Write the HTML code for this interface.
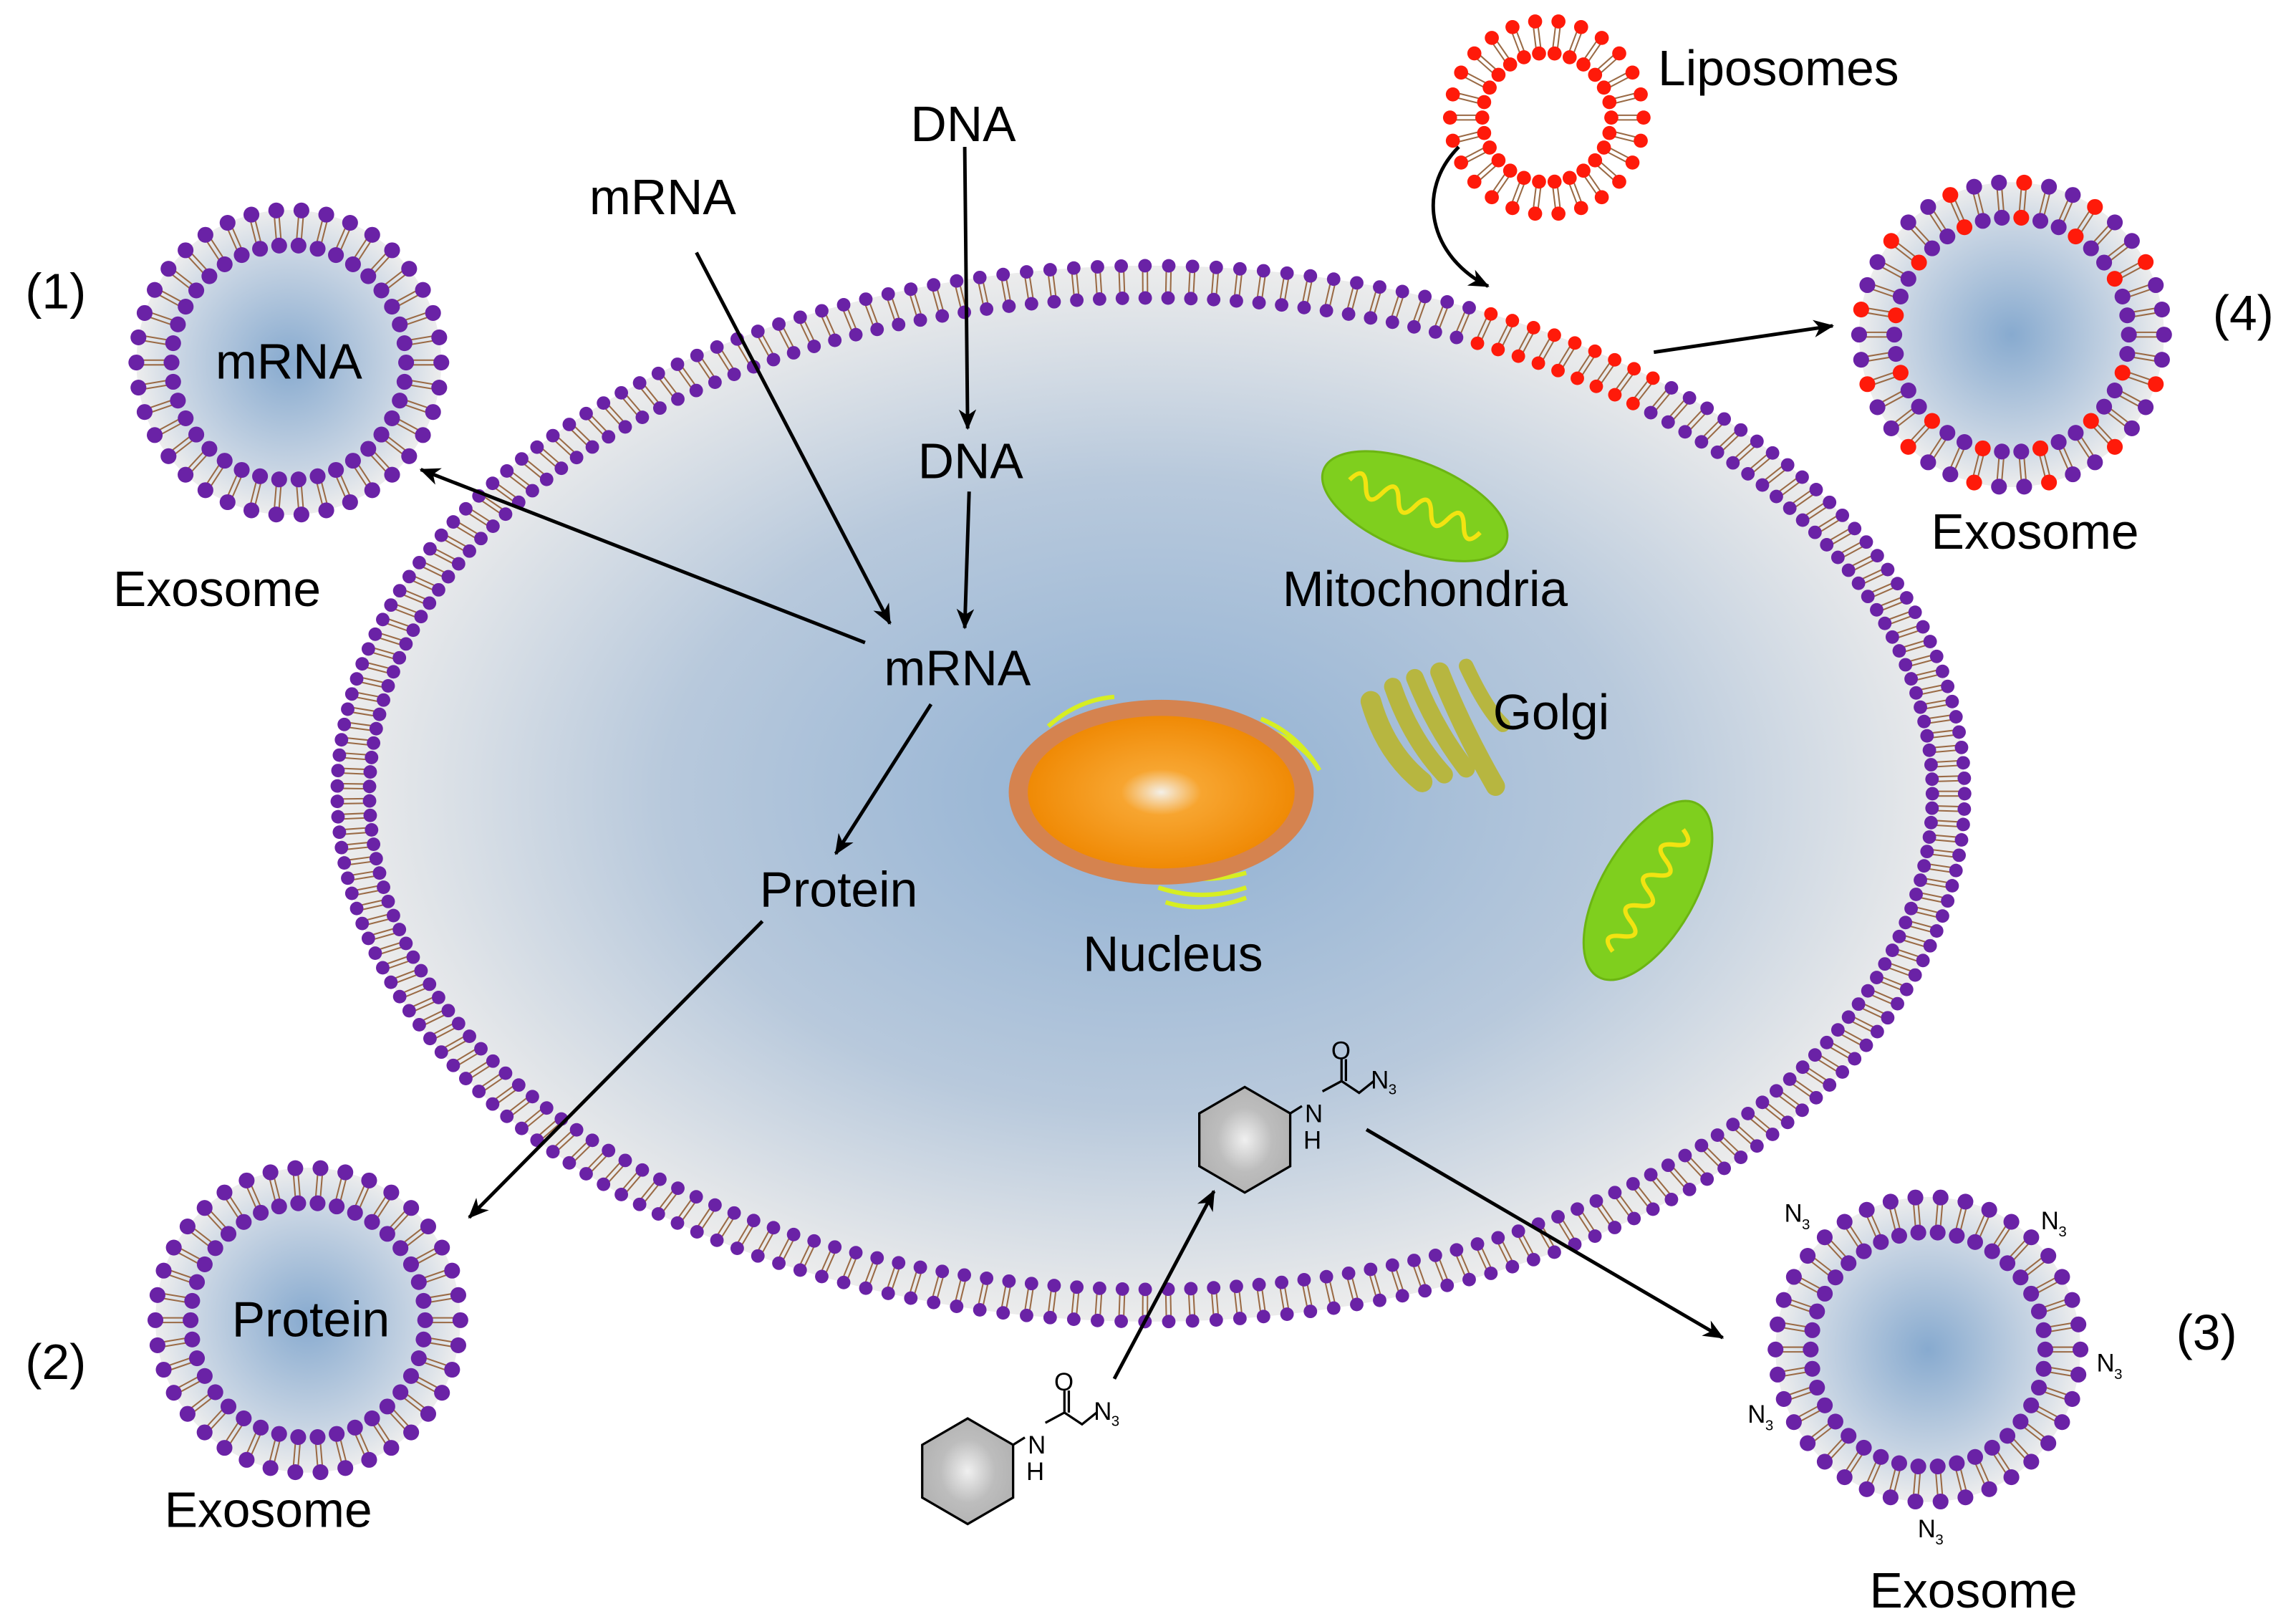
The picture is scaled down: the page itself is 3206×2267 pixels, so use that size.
<!DOCTYPE html>
<html><head><meta charset="utf-8"><style>
html,body{margin:0;padding:0;background:#fff;}
svg{display:block;}
text{font-family:"Liberation Sans",Arial,sans-serif;fill:#000;}
</style></head><body>
<svg id="s" width="3206" height="2267" viewBox="0 0 1566 1107" xmlns="http://www.w3.org/2000/svg">
<defs>
<radialGradient id="cellg" cx="0.5" cy="0.5" r="0.5">
<stop offset="0" stop-color="#8fb0d3"/><stop offset="0.6" stop-color="#b8c9dc"/><stop offset="1" stop-color="#ececec"/></radialGradient>
<radialGradient id="exg" cx="0.5" cy="0.5" r="0.5">
<stop offset="0" stop-color="#87aacf"/><stop offset="0.7" stop-color="#c7d4e3"/><stop offset="1" stop-color="#ededed"/></radialGradient>
<radialGradient id="nucg" cx="0.5" cy="0.5" r="0.5">
<stop offset="0" stop-color="#f4f0e8"/><stop offset="0.3" stop-color="#f7a530"/><stop offset="1" stop-color="#f08a05"/></radialGradient>
<radialGradient id="hexg" cx="0.5" cy="0.5" r="0.5">
<stop offset="0" stop-color="#f0f0f0"/><stop offset="0.6" stop-color="#bdbdbd"/><stop offset="1" stop-color="#b4b4b4"/></radialGradient>
<marker id="ar" markerWidth="14" markerHeight="12" refX="13" refY="6" orient="auto" markerUnits="userSpaceOnUse">
<path d="M0,0 L14,6 L0,12 L4,6 Z" fill="#000"/></marker>
</defs>
<g id="cell"></g>
<g id="ex"></g>

<g>
<path d="M715,495 q20,-18 45,-20 M705,520 q5,-15 20,-25 M860,490 q25,10 40,35 M870,500 q20,8 30,25 M790,605 q30,10 60,0 M795,615 q25,8 55,-3 M800,597 q25,5 50,-2" stroke="#d7ee22" stroke-width="3" fill="none"/>
<ellipse cx="792" cy="540" rx="104" ry="63" fill="#d5834f"/>
<ellipse cx="792" cy="540" rx="91" ry="52" fill="url(#nucg)"/>
</g>
<g transform="translate(965,345) rotate(22)">
<ellipse rx="67" ry="30" fill="#7fcf1e" stroke="#6cb513" stroke-width="1.5"/>
<path d="M-48,0 q6,-14 12,0 t12,0 t12,0 t12,0 t12,0 t12,0 t12,0 t12,0" stroke="#f2e311" stroke-width="3" fill="none"/>
</g>
<g transform="translate(1124,607) rotate(-60)">
<ellipse rx="68" ry="32" fill="#7fcf1e" stroke="#6cb513" stroke-width="1.5"/>
<path d="M-48,0 q6,-14 12,0 t12,0 t12,0 t12,0 t12,0 t12,0 t12,0 t12,0" stroke="#f2e311" stroke-width="3" fill="none"/>
</g>
<g fill="none" stroke="#b7b640" stroke-linecap="round">
<path d="M935,478 q10,35 35,55" stroke-width="14"/>
<path d="M950,468 q12,35 35,60" stroke-width="12"/>
<path d="M965,462 q14,35 35,62" stroke-width="12"/>
<path d="M982,458 q16,40 38,78" stroke-width="13"/>
<path d="M1000,454 q14,30 25,40" stroke-width="10"/>
</g>

<g stroke="#000" stroke-width="1.6">
<polygon points="849,741 880,759 880,795 849,813 818,795 818,759" fill="url(#hexg)"/>
<path d="M880,759 L888,754 M902,744 L915,737 L927,745 L937,737 M915,737 V722 M918,737 V722" fill="none"/>
</g>
<text x="890" y="765" font-size="17">N</text><text x="889" y="783" font-size="17">H</text>
<text x="908" y="722" font-size="17">O</text><text x="935" y="742" font-size="17">N</text><text x="947" y="746" font-size="10">3</text>
<g stroke="#000" stroke-width="1.6">
<polygon points="660,967 691,985 691,1021 660,1039 629,1021 629,985" fill="url(#hexg)"/>
<path d="M691,985 L699,980 M713,970 L726,963 L738,971 L748,963 M726,963 V948 M729,963 V948" fill="none"/>
</g>
<text x="701" y="991" font-size="17">N</text><text x="700" y="1009" font-size="17">H</text>
<text x="719" y="948" font-size="17">O</text><text x="746" y="968" font-size="17">N</text><text x="758" y="972" font-size="10">3</text>

<g stroke="#000" stroke-width="2.4" fill="none" marker-end="url(#ar)">
<line x1="658" y1="100" x2="660" y2="292"/>
<line x1="661" y1="335" x2="658" y2="428"/>
<line x1="475" y1="172" x2="607" y2="425"/>
<line x1="590" y1="438" x2="287" y2="320"/>
<line x1="635" y1="480" x2="570" y2="582"/>
<line x1="520" y1="628" x2="320" y2="830"/>
<line x1="760" y1="940" x2="828" y2="812"/>
<line x1="932" y1="770" x2="1175" y2="912"/>
<line x1="1128" y1="240" x2="1250" y2="222"/>
<path d="M995,100 C965,130 975,175 1015,195"/>
</g>

<g font-size="34" text-anchor="middle">
<text x="38" y="210">(1)</text>
<text x="197" y="258">mRNA</text>
<text x="148" y="413">Exosome</text>
<text x="452" y="146">mRNA</text>
<text x="657" y="96">DNA</text>
<text x="662" y="326">DNA</text>
<text x="653" y="467">mRNA</text>
<text x="572" y="618">Protein</text>
<text x="800" y="662">Nucleus</text>
<text x="972" y="413">Mitochondria</text>
<text x="1058" y="497">Golgi</text>
<text x="1213" y="58">Liposomes</text>
<text x="1530" y="225">(4)</text>
<text x="1388" y="374">Exosome</text>
<text x="1505" y="920">(3)</text>
<text x="1346" y="1096">Exosome</text>
<text x="38" y="940">(2)</text>
<text x="212" y="911">Protein</text>
<text x="183" y="1041">Exosome</text>
</g>
<g font-size="17">
<text x="1217" y="833">N</text><text x="1229" y="838" font-size="10">3</text>
<text x="1392" y="838">N</text><text x="1404" y="843" font-size="10">3</text>
<text x="1430" y="935">N</text><text x="1442" y="940" font-size="10">3</text>
<text x="1192" y="970">N</text><text x="1204" y="975" font-size="10">3</text>
<text x="1308" y="1048">N</text><text x="1320" y="1053" font-size="10">3</text>
</g>
</svg>
<script>
var NS="http://www.w3.org/2000/svg";
function el(p,n,a){var e=document.createElementNS(NS,n);for(var k in a)e.setAttribute(k,a[k]);p.appendChild(e);return e;}
var cell=document.getElementById('cell'),ex=document.getElementById('ex');
function membrane(g,cx,cy,ro,ri,ryo,ryi,n,dr,fill,colorFn){
  el(g,'ellipse',{cx:cx,cy:cy,rx:ro,ry:ryo,fill:fill});
  for(var i=0;i<n;i++){
    var t=i/n*Math.PI*2;
    var c=Math.cos(t),s=Math.sin(t);
    var xo=cx+ro*c,yo=cy+ryo*s,xi=cx+ri*c,yi=cy+ryi*s;
    var col=colorFn?colorFn(xo,yo,i):'#6a22a6';
    var dx=xi-xo,dy=yi-yo,L=Math.hypot(dx,dy),px=-dy/L*1.6,py=dx/L*1.6;
    el(g,'line',{x1:xo+px,y1:yo+py,x2:xi+px,y2:yi+py,stroke:'#9a6a45','stroke-width':1});
    el(g,'line',{x1:xo-px,y1:yo-py,x2:xi-px,y2:yi-py,stroke:'#9a6a45','stroke-width':1});
    el(g,'circle',{cx:xo,cy:yo,r:dr,fill:col});
    el(g,'circle',{cx:xi,cy:yi,r:dr,fill:col});
  }
}
membrane(cell,785,541,555,533,360,338,215,4.6,'url(#cellg)',function(x,y){return (x>1005&&x<1135&&y<270)?'#ff1a0a':'#6a22a6';});
membrane(ex,197,247,104,80,104,80,38,5.4,'url(#exg)');
membrane(ex,210,900,104,80,104,80,38,5.4,'url(#exg)');
membrane(ex,1315,920,104,80,104,80,38,5.4,'url(#exg)');
var k=0;
membrane(ex,1372,228,104,80,104,80,38,5.4,'url(#exg)',function(){k++;return (k%3==0)?'#ff1a0a':'#6a22a6';});
membrane(ex,1055,80,66,44,66,44,26,4.8,'#fff',function(){return '#ff1a0a';});
</script>
</body></html>
